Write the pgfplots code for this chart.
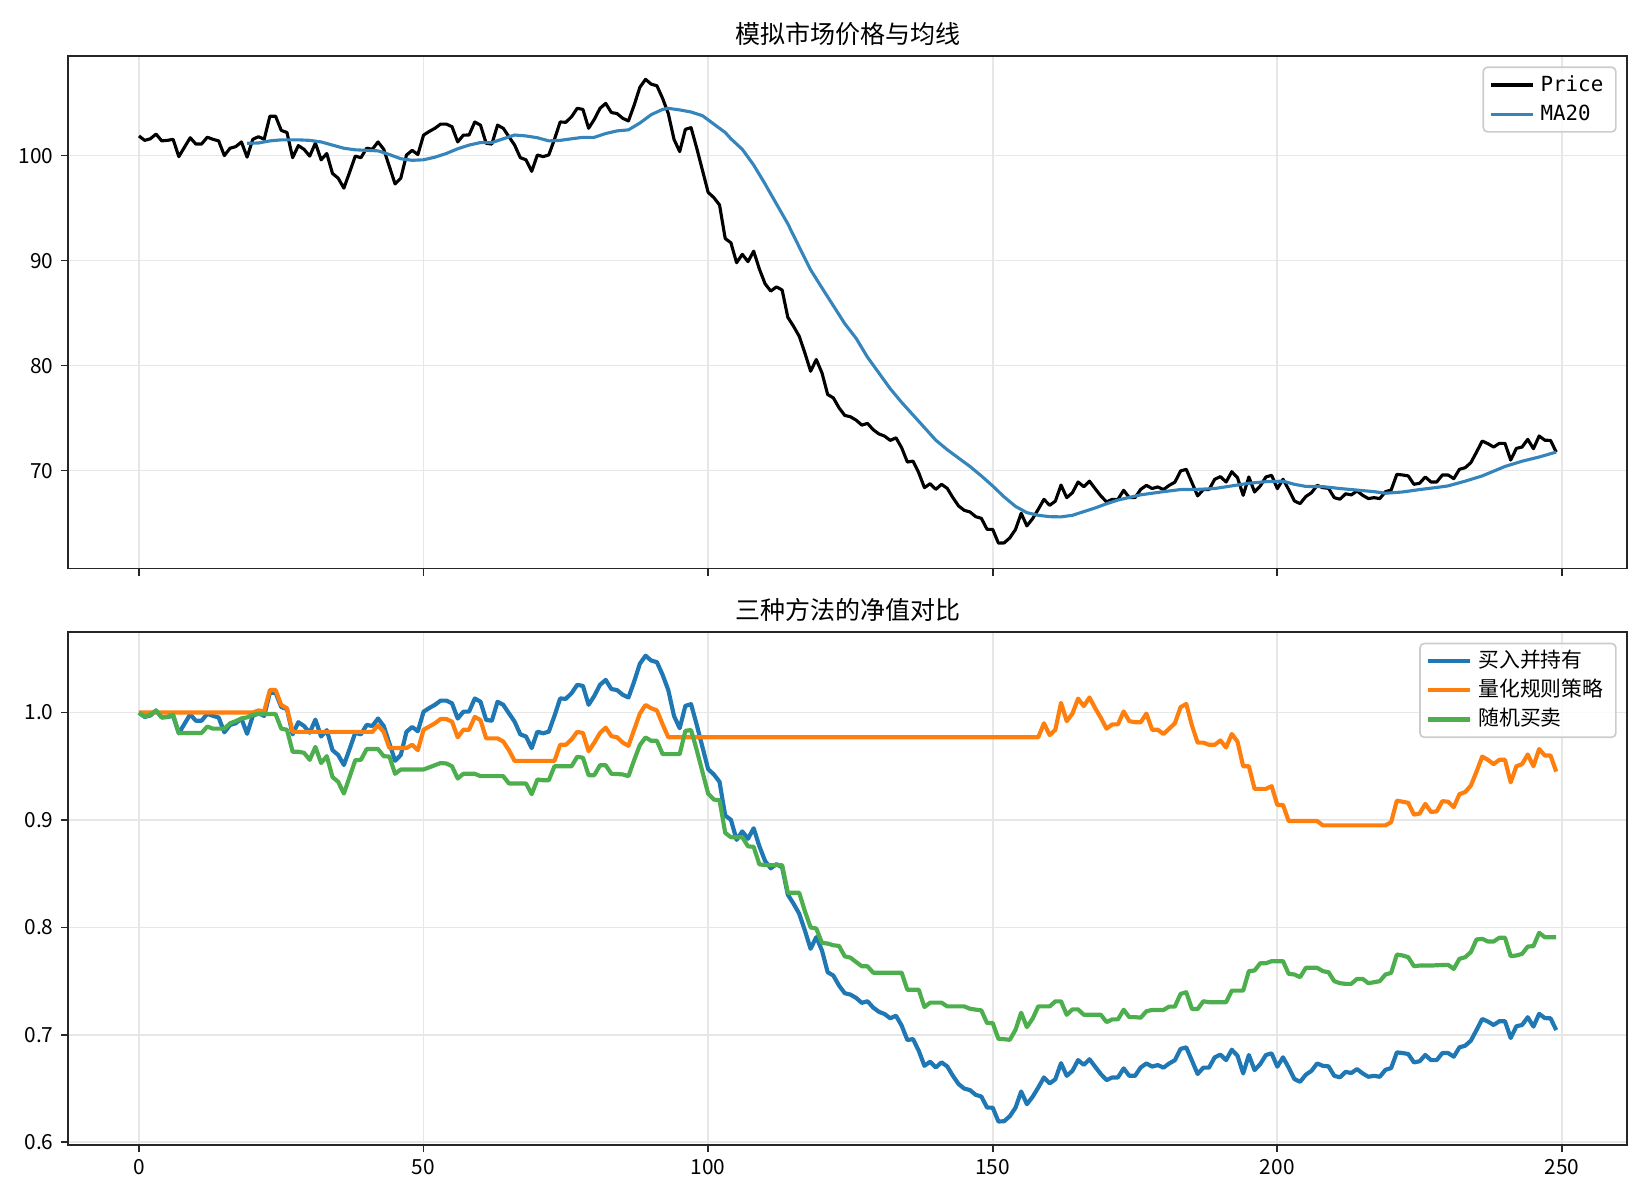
\documentclass[border=0pt]{standalone}
\usepackage{fontspec}
\setmainfont{Noto Sans CJK SC}
\newfontfamily\monofont{DejaVu Sans Mono}
\usepackage{pgfplots}
\usepackage{pgfplotstable}
\pgfplotsset{compat=1.18}

\definecolor{macol}{RGB}{53,133,188}
\definecolor{bhcol}{RGB}{31,119,180}
\definecolor{qcol}{RGB}{255,127,14}
\definecolor{rcol}{RGB}{76,174,76}
\definecolor{gridgray}{RGB}{231,231,231}
\definecolor{framegray}{RGB}{204,204,204}

% i: day, p: price, b: buy and hold, o: rule strategy, g: random
\pgfplotstableread{
i p b o g
0 101.87 1.0000 1.000 1.000
1 101.45 0.9959 1.000 0.996
2 101.60 0.9973 1.000 0.998
3 102.05 1.0018 1.000 1.002
4 101.40 0.9954 1.000 0.9955
5 101.45 0.9959 1.000 0.996
6 101.55 0.9969 1.000 0.998
7 99.90 0.9807 1.000 0.981
8 100.80 0.9895 1.000 0.981
9 101.70 0.9983 1.000 0.981
10 101.10 0.9924 1.000 0.981
11 101.10 0.9924 1.000 0.981
12 101.75 0.9988 1.000 0.987
13 101.55 0.9969 1.000 0.985
14 101.40 0.9954 1.000 0.985
15 100.00 0.9816 1.000 0.985
16 100.70 0.9885 1.000 0.990
17 100.85 0.9900 1.000 0.992
18 101.30 0.9944 1.000 0.9945
19 99.85 0.9802 1.000 0.9955
20 101.55 0.9969 1.000 0.998
21 101.80 0.9993 1.002 0.9986
22 101.55 0.9969 1.001 0.9986
23 103.75 1.0185 1.021 0.9986
24 103.75 1.0185 1.021 0.9986
25 102.40 1.0052 1.007 0.985
26 102.20 1.0032 1.004 0.984
27 99.80 0.9797 0.982 0.9635
28 100.95 0.9910 0.982 0.9635
29 100.60 0.9875 0.982 0.9625
30 99.95 0.9812 0.982 0.956
31 101.20 0.9934 0.982 0.968
32 99.60 0.9777 0.982 0.953
33 100.20 0.9836 0.982 0.9594
34 98.30 0.9650 0.982 0.940
35 97.85 0.9605 0.982 0.9355
36 96.90 0.9512 0.982 0.9246
37 98.40 0.9659 0.982 0.940
38 99.95 0.9812 0.982 0.9556
39 99.80 0.9797 0.982 0.956
40 100.70 0.9885 0.982 0.966
41 100.60 0.9875 0.982 0.966
42 101.30 0.9944 0.988 0.966
43 100.60 0.9875 0.982 0.9594
44 98.95 0.9713 0.967 0.959
45 97.30 0.9551 0.967 0.943
46 97.85 0.9605 0.967 0.947
47 100.05 0.9821 0.967 0.947
48 100.50 0.9866 0.970 0.947
49 100.10 0.9826 0.965 0.947
50 101.95 1.0008 0.984 0.947
51 102.30 1.0042 0.987 0.949
52 102.60 1.0072 0.990 0.951
53 103.00 1.0111 0.994 0.953
54 103.00 1.0111 0.994 0.9526
55 102.75 1.0086 0.9915 0.950
56 101.30 0.9944 0.977 0.9386
57 101.95 1.0008 0.984 0.943
58 101.96 1.0009 0.984 0.943
59 103.20 1.0131 0.996 0.943
60 102.90 1.0101 0.993 0.9408
61 101.17 0.9931 0.976 0.9408
62 101.10 0.9924 0.976 0.9408
63 102.90 1.0101 0.976 0.9408
64 102.60 1.0072 0.973 0.9408
65 101.80 0.9993 0.965 0.934
66 101.00 0.9915 0.955 0.934
67 99.80 0.9797 0.955 0.934
68 99.60 0.9777 0.955 0.934
69 98.50 0.9669 0.955 0.924
70 100.06 0.9822 0.955 0.9377
71 99.90 0.9807 0.955 0.937
72 100.06 0.9822 0.955 0.937
73 101.55 0.9969 0.955 0.950
74 103.20 1.0131 0.970 0.950
75 103.17 1.0128 0.970 0.950
76 103.70 1.0180 0.975 0.950
77 104.50 1.0258 0.982 0.9588
78 104.40 1.0248 0.981 0.958
79 102.60 1.0072 0.964 0.9417
80 103.45 1.0155 0.972 0.9417
81 104.50 1.0258 0.981 0.951
82 104.97 1.0304 0.986 0.951
83 104.10 1.0219 0.978 0.943
84 104.00 1.0209 0.977 0.9428
85 103.55 1.0165 0.972 0.9424
86 103.30 1.0140 0.969 0.9408
87 104.80 1.0288 0.984 0.9557
88 106.50 1.0454 0.999 0.9697
89 107.26 1.0529 1.007 0.9768
90 106.80 1.0484 1.004 0.9737
91 106.65 1.0469 1.002 0.9737
92 105.45 1.0351 0.989 0.9613
93 104.00 1.0209 0.977 0.9613
94 101.55 0.9969 0.977 0.9613
95 100.38 0.9854 0.977 0.9613
96 102.50 1.0062 0.977 0.983
97 102.66 1.0078 0.977 0.9837
98 100.70 0.9885 0.977 0.965
99 98.60 0.9679 0.977 0.9448
100 96.50 0.9473 0.977 0.9246
101 96.00 0.9424 0.977 0.919
102 95.30 0.9355 0.977 0.9184
103 92.10 0.9041 0.977 0.888
104 91.70 0.9002 0.977 0.884
105 89.80 0.8815 0.977 0.884
106 90.60 0.8894 0.977 0.884
107 89.90 0.8825 0.977 0.8755
108 90.90 0.8923 0.977 0.875
109 89.20 0.8756 0.977 0.8587
110 87.80 0.8619 0.977 0.858
111 87.10 0.8550 0.977 0.858
112 87.50 0.8589 0.977 0.858
113 87.20 0.8560 0.977 0.858
114 84.60 0.8305 0.977 0.8323
115 83.75 0.8221 0.977 0.8323
116 82.80 0.8128 0.977 0.8323
117 81.20 0.7971 0.977 0.815
118 79.47 0.7801 0.977 0.800
119 80.58 0.7910 0.977 0.799
120 79.31 0.7785 0.977 0.7856
121 77.25 0.7583 0.977 0.785
122 76.93 0.7552 0.977 0.7834
123 75.98 0.7459 0.977 0.7828
124 75.26 0.7388 0.977 0.7731
125 75.13 0.7375 0.977 0.7719
126 74.81 0.7344 0.977 0.7678
127 74.34 0.7298 0.977 0.7638
128 74.50 0.7313 0.977 0.7638
129 73.90 0.7254 0.977 0.7579
130 73.50 0.7215 0.977 0.7579
131 73.29 0.7194 0.977 0.7579
132 72.88 0.7154 0.977 0.7579
133 73.13 0.7179 0.977 0.7579
134 72.18 0.7086 0.977 0.7579
135 70.82 0.6952 0.977 0.742
136 70.91 0.6961 0.977 0.742
137 69.80 0.6852 0.977 0.742
138 68.38 0.6712 0.977 0.7259
139 68.76 0.6750 0.977 0.730
140 68.22 0.6697 0.977 0.730
141 68.70 0.6744 0.977 0.730
142 68.32 0.6707 0.977 0.7265
143 67.43 0.6619 0.977 0.7265
144 66.64 0.6542 0.977 0.7265
145 66.22 0.6500 0.977 0.7265
146 66.07 0.6486 0.977 0.7243
147 65.62 0.6442 0.977 0.7235
148 65.46 0.6426 0.977 0.7228
149 64.42 0.6324 0.977 0.711
150 64.40 0.6322 0.977 0.711
151 63.10 0.6194 0.977 0.6963
152 63.12 0.6196 0.977 0.696
153 63.60 0.6243 0.977 0.6954
154 64.40 0.6322 0.977 0.7047
155 65.94 0.6473 0.977 0.7206
156 64.74 0.6355 0.977 0.7072
157 65.43 0.6423 0.977 0.715
158 66.32 0.6510 0.977 0.7265
159 67.27 0.6604 0.990 0.7265
160 66.70 0.6548 0.979 0.7265
161 67.10 0.6587 0.984 0.7312
162 68.63 0.6737 1.009 0.7312
163 67.43 0.6619 0.992 0.7187
164 67.90 0.6665 0.999 0.7237
165 68.92 0.6765 1.013 0.7237
166 68.47 0.6721 1.006 0.7187
167 69.00 0.6773 1.014 0.7187
168 68.28 0.6703 1.004 0.7187
169 67.59 0.6635 0.995 0.7187
170 67.02 0.6579 0.985 0.7119
171 67.27 0.6604 0.989 0.7144
172 67.27 0.6604 0.989 0.7144
173 68.13 0.6688 1.001 0.7234
174 67.43 0.6619 0.992 0.7165
175 67.43 0.6619 0.991 0.7165
176 68.22 0.6697 0.991 0.716
177 68.60 0.6734 0.999 0.722
178 68.30 0.6705 0.984 0.7232
179 68.45 0.6719 0.984 0.7232
180 68.20 0.6695 0.980 0.7232
181 68.60 0.6734 0.985 0.7263
182 68.90 0.6764 0.990 0.7263
183 69.97 0.6869 1.005 0.7381
184 70.13 0.6884 1.008 0.7397
185 68.86 0.6760 0.988 0.7241
186 67.60 0.6636 0.972 0.7241
187 68.20 0.6695 0.972 0.7313
188 68.20 0.6695 0.970 0.7304
189 69.18 0.6791 0.970 0.7304
190 69.43 0.6816 0.974 0.7304
191 68.92 0.6765 0.9675 0.7304
192 69.90 0.6862 0.980 0.7412
193 69.33 0.6806 0.973 0.7412
194 67.65 0.6641 0.950 0.7412
195 69.40 0.6813 0.950 0.7593
196 67.97 0.6672 0.929 0.7599
197 68.54 0.6728 0.929 0.7667
198 69.40 0.6813 0.929 0.7667
199 69.56 0.6828 0.9315 0.7686
200 68.29 0.6704 0.914 0.7686
201 69.18 0.6791 0.914 0.7686
202 68.20 0.6695 0.899 0.7568
203 67.12 0.6589 0.899 0.7562
204 66.86 0.6563 0.899 0.7537
205 67.53 0.6629 0.899 0.7624
206 67.90 0.6665 0.899 0.7624
207 68.60 0.6734 0.899 0.7624
208 68.38 0.6712 0.895 0.7593
209 68.32 0.6707 0.895 0.7583
210 67.43 0.6619 0.895 0.750
211 67.28 0.6605 0.895 0.7481
212 67.80 0.6656 0.895 0.7475
213 67.69 0.6645 0.895 0.7475
214 68.07 0.6682 0.895 0.7521
215 67.65 0.6641 0.895 0.7521
216 67.34 0.6610 0.895 0.7481
217 67.43 0.6619 0.895 0.749
218 67.34 0.6610 0.895 0.750
219 68.00 0.6675 0.895 0.7562
220 68.16 0.6691 0.898 0.7577
221 69.65 0.6837 0.918 0.7748
222 69.59 0.6831 0.917 0.7739
223 69.50 0.6822 0.916 0.7723
224 68.70 0.6744 0.905 0.7639
225 68.80 0.6754 0.906 0.7645
226 69.40 0.6813 0.915 0.7645
227 68.92 0.6765 0.9075 0.7645
228 68.92 0.6765 0.908 0.7648
229 69.59 0.6831 0.9175 0.7650
230 69.59 0.6831 0.917 0.7652
231 69.24 0.6797 0.912 0.7614
232 70.13 0.6884 0.924 0.7708
233 70.28 0.6899 0.926 0.7723
234 70.76 0.6946 0.932 0.777
235 71.77 0.7045 0.945 0.7888
236 72.82 0.7148 0.959 0.7894
237 72.57 0.7124 0.956 0.7869
238 72.25 0.7092 0.952 0.7869
239 72.60 0.7127 0.956 0.7904
240 72.60 0.7127 0.956 0.7904
241 71.01 0.6971 0.935 0.7733
242 72.12 0.7080 0.950 0.7739
243 72.25 0.7092 0.952 0.7754
244 72.98 0.7164 0.961 0.7822
245 72.09 0.7077 0.950 0.7826
246 73.30 0.7196 0.966 0.795
247 72.90 0.7156 0.960 0.7909
248 72.88 0.7154 0.960 0.7909
249 71.77 0.7045 0.945 0.7909
}\data

% 20-day moving average
\pgfplotstableread{
i m
19 101.17
21 101.20
23 101.40
25 101.50
28 101.50
30 101.45
32 101.30
34 101.00
36 100.70
38 100.55
40 100.50
42 100.45
44 100.10
46 99.70
48 99.55
50 99.60
52 99.85
54 100.20
56 100.65
58 101.00
60 101.24
62 101.24
64 101.60
66 101.96
68 101.87
70 101.70
72 101.40
74 101.45
76 101.60
78 101.74
80 101.74
82 102.10
84 102.35
86 102.45
88 103.10
90 103.90
92 104.40
93 104.50
95 104.35
97 104.15
99 103.80
100 103.40
102 102.60
103 102.20
104 101.60
106 100.60
108 99.10
110 97.30
112 95.40
114 93.50
116 91.30
118 89.13
120 87.40
122 85.70
124 84.00
126 82.60
128 80.80
130 79.30
132 77.80
134 76.50
136 75.30
138 74.10
140 72.90
142 72.00
144 71.20
146 70.40
148 69.50
150 68.54
152 67.50
154 66.60
156 66.00
158 65.75
160 65.62
162 65.60
164 65.75
166 66.10
168 66.45
170 66.85
172 67.20
174 67.45
176 67.70
178 67.85
180 68.00
183 68.20
186 68.22
189 68.30
192 68.55
195 68.80
198 68.95
201 69.00
203 68.70
205 68.50
208 68.48
211 68.30
214 68.15
217 68.00
219 67.85
222 67.97
225 68.20
228 68.40
230 68.55
233 69.00
236 69.50
238 69.95
240 70.40
243 70.90
246 71.30
249 71.77
}\madata

\pgfplotsset{
  every axis title/.style={at={(0.5,1)}, anchor=base, yshift=6pt,
                 inner sep=0pt, font=\fontsize{12}{14}\selectfont},
  myax/.style={
    scale only axis,
    width=748.3pt, height=246pt,
    xmin=-12.45, xmax=261.45,
    xtick={0,50,100,150,200,250},
    axis line style={line width=0.8pt, black!85},
    tick style={line width=0.8pt, black!85},
    tick align=outside, tick pos=left,
    major tick length=3.5pt,
    grid=major,
    grid style={line width=0.8pt, gridgray},
    ticklabel style={font=\fontsize{10}{12}\selectfont},
    /pgf/number format/assume math mode=true,
    legend cell align=left,
    legend image code/.code={\draw[##1] (0pt,0pt) -- (20pt,0pt);},
    legend style={at={(1,1)}, anchor=north east, xshift=-5pt, yshift=-5pt,
      draw=framegray, line width=0.8pt, rounded corners=2pt,
      fill=white, fill opacity=0.8, text opacity=1, draw opacity=1,
      font=\fontsize{10}{12}\selectfont,
      inner xsep=3pt, inner ysep=2pt, row sep=1pt,
      nodes={inner xsep=3pt, inner ysep=1.5pt, text height=8pt, text depth=2pt}},
  }
}

\begin{document}
\begin{tikzpicture}
\useasboundingbox (0,0) rectangle (792pt,576pt);

\begin{axis}[myax,
  at={(32.69pt,549.1pt)}, anchor=north west,
  ymin=60.68, ymax=109.48,
  ytick={70,80,90,100},
  xticklabels={},
  title={模拟市场价格与均线},
]
\addplot[black, line width=1.5pt, line join=round] table[x=i, y=p] {\data};
\addlegendentry{\monofont Price}
\addplot[macol, line width=1.5pt, line join=round] table[x=i, y=m] {\madata};
\addlegendentry{\monofont MA20}
\end{axis}

\begin{axis}[myax,
  at={(32.69pt,272.5pt)}, anchor=north west,
  ymin=0.5977, ymax=1.0747,
  ytick={0.6,0.7,0.8,0.9,1.0},
  yticklabel style={/pgf/number format/.cd, fixed, fixed zerofill, precision=1},
  title={三种方法的净值对比},
]
\addplot[bhcol, line width=2pt, line join=round] table[x=i, y=b] {\data};
\addlegendentry{买入并持有}
\addplot[qcol, line width=2pt, line join=round] table[x=i, y=o] {\data};
\addlegendentry{量化规则策略}
\addplot[rcol, line width=2pt, line join=round] table[x=i, y=g] {\data};
\addlegendentry{随机买卖}
\end{axis}
\end{tikzpicture}
\end{document}
